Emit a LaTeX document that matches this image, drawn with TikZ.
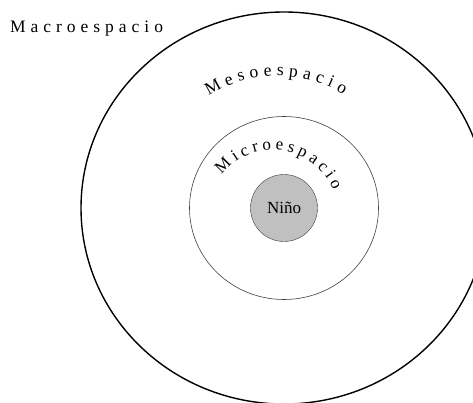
\documentclass[tikz,border=0pt]{standalone}
\usepackage{fontspec}
\setmainfont{Liberation Serif}
\usetikzlibrary{shapes.geometric, decorations.text}
\definecolor{ninoGray}{HTML}{C0C0C0}
\definecolor{ringGray}{HTML}{404040}
\newcommand{\macrofont}{\fontsize{17.5}{17.5}\selectfont}
\newcommand{\mesofont}{\fontsize{17.5}{17.5}\selectfont}
\newcommand{\microfont}{\fontsize{17}{17}\selectfont}

\begin{document}
\begin{tikzpicture}[x=1pt, y=1pt,
    ring/.style={ellipse, draw, inner sep=0pt},
    arclabel/.style={decorate, decoration={text along path, text align={fit to path}, text={#1}}}]
    \fill[white] (0,0) rectangle (473,402);
    \useasboundingbox (0,0) rectangle (473,402);
    \clip (0,0) rectangle (473,402);
    % rings
    \node[ring, line width=1.4pt, minimum width=406pt, minimum height=392pt] (meso) at (284,194) {};
    \node[ring, draw=ringGray, line width=0.6pt, minimum width=189pt, minimum height=183pt] (micro) at (284,194) {};
    \node[circle, draw=ringGray, fill=ninoGray, minimum size=67pt, inner sep=0pt,
      font=\fontsize{17}{17}\selectfont] (nino) at (284,194) {Niño};
    % labels
    \coordinate (mesoC) at (277,197);
    \coordinate (microC) at (273,187);
    \path[arclabel={|\macrofont|Macroespacio}] (10,369) -- (163,369);
    \path[arclabel={|\mesofont|Mesoespacio}] (mesoC) ++(122:129) arc[start angle=122, end angle=59, radius=129];
    \path[arclabel={|\microfont|Microespacio}] (microC) ++(142:65) arc[start angle=142, end angle=22, radius=65];
\end{tikzpicture}
\end{document}
